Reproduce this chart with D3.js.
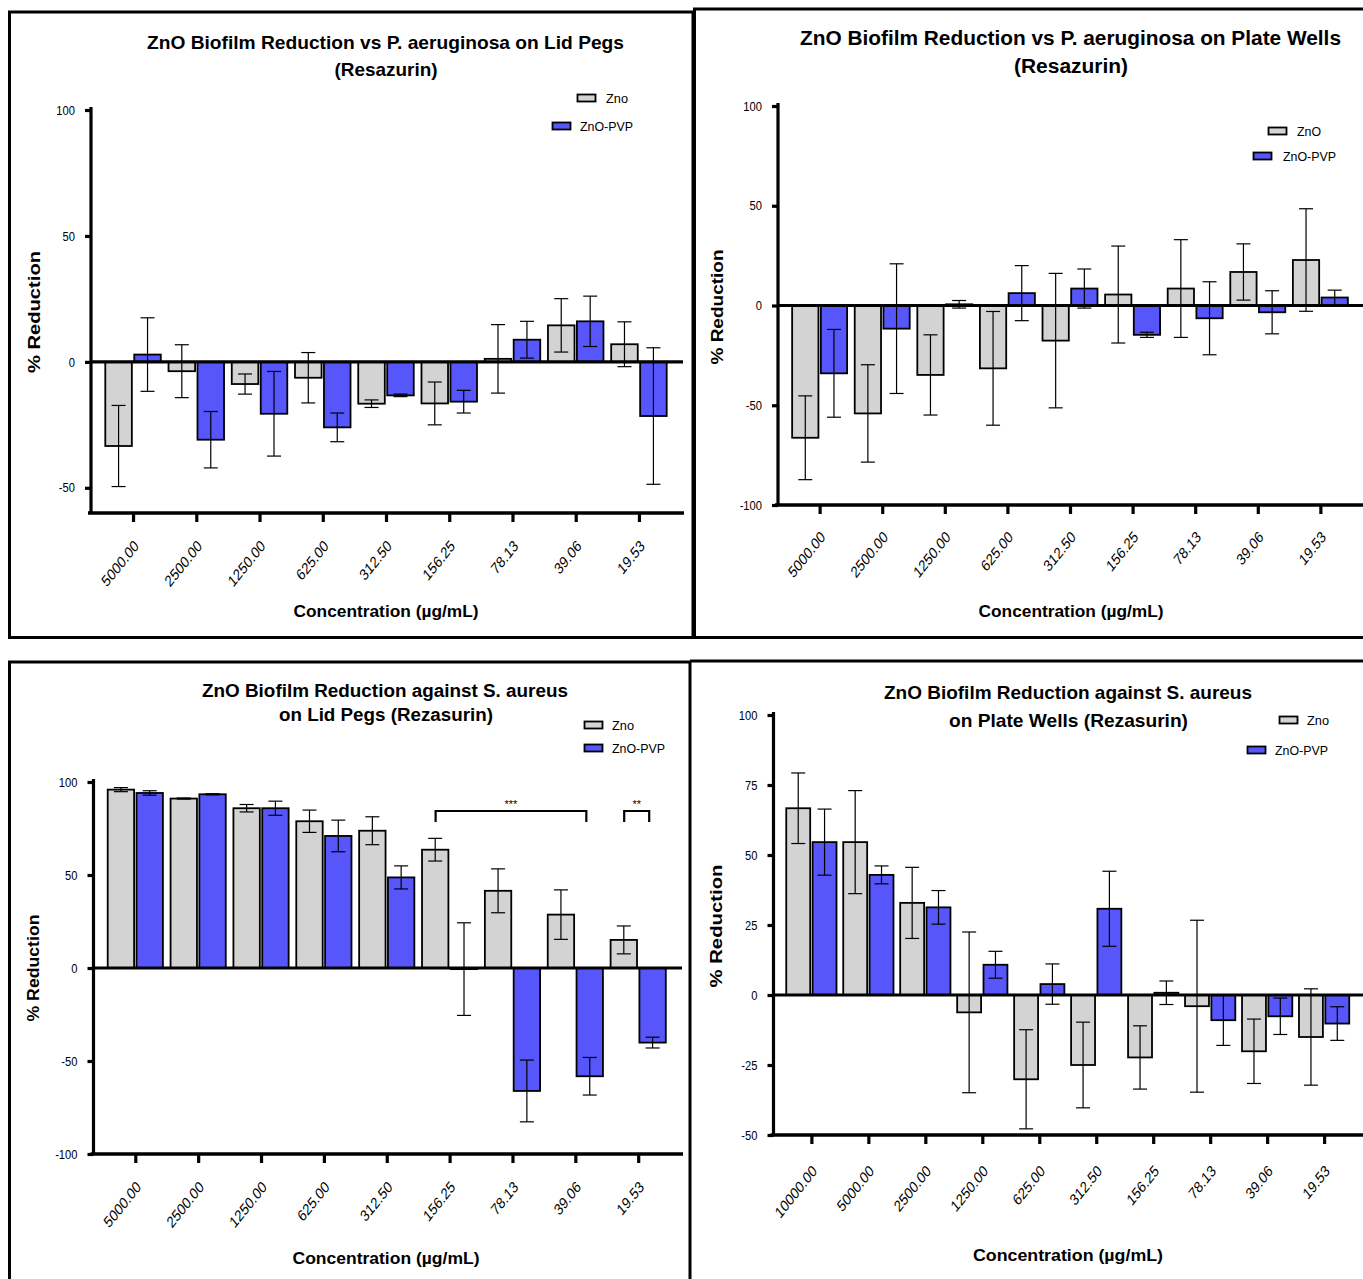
<!DOCTYPE html>
<html>
<head>
<meta charset="utf-8">
<script src="https://cdn.jsdelivr.net/npm/d3@7"></script>
<style>
  body { margin: 0; background: #fff; }
  svg { display: block; }
  text { font-family: "Liberation Sans", Arial, Helvetica, sans-serif; fill: #000; }
</style>
</head>
<body>
<svg id="fig" width="1363" height="1279"></svg>
<script>
// ---- concentrations (µg/mL) ----
const concPA = ["5000.00", "2500.00", "1250.00", "625.00", "312.50", "156.25", "78.13", "39.06", "19.53"];
const concSALid = ["5000.00", "2500.00", "1250.00", "625.00", "312.50", "156.25", "78.13", "39.06", "19.53"];
const concSAWell = ["10000.00", "5000.00", "2500.00", "1250.00", "625.00", "312.50", "156.25", "78.13", "39.06", "19.53"];

// ---- P. aeruginosa, lid pegs: mean % reduction and SD ----
const paLidZno = [-33.4, -3.7, -8.8, -6.3, -16.6, -16.5, 1.2, 14.5, 7.0];
const paLidZnoSd = [16.1, 10.5, 4.0, 10.0, 1.5, 8.5, 13.6, 10.6, 8.9];
const paLidPvp = [2.9, -30.9, -20.6, -26.0, -13.3, -15.8, 8.8, 16.1, -21.5];
const paLidPvpSd = [14.6, 11.2, 16.8, 5.7, 0.5, 4.5, 7.3, 10.0, 27.1];

// ---- P. aeruginosa, plate wells ----
const paWellZno = [-66.3, -54.1, -34.8, -31.5, -17.6, 5.5, 8.5, 16.8, 22.8];
const paWellZnoSd = [21.0, 24.4, 20.1, 28.5, 33.7, 24.3, 24.5, 14.1, 25.7];
const paWellPvp = [-34.0, -11.6, 0.6, 6.2, 8.5, -14.7, -6.4, -3.4, 4.0];
const paWellPvpSd = [22.0, 32.5, 1.9, 13.8, 9.8, 1.3, 18.3, 10.8, 3.7];

// ---- S. aureus, lid pegs ----
const saLidZno = [95.9, 91.1, 85.9, 78.9, 73.8, 63.6, 41.5, 28.7, 15.1];
const saLidZnoSd = [1.1, 0.3, 2.0, 6.0, 7.5, 6.1, 11.8, 13.3, 7.5];
const saLidPvp = [94.1, 93.4, 85.9, 71.0, 48.7, -0.6, -66.1, -58.2, -40.1];
const saLidPvpSd = [1.2, 0.3, 3.8, 8.5, 6.2, 24.9, 16.6, 10.1, 2.9];

// ---- S. aureus, plate wells ----
const saWellZno = [66.7, 54.6, 32.9, -6.2, -30.1, -25.0, -22.3, -4.0, -20.1, -15.0];
const saWellZnoSd = [12.6, 18.4, 12.7, 28.7, 17.7, 15.3, 11.3, 30.7, 11.5, 17.2];
const saWellPvp = [54.6, 42.9, 31.3, 10.8, 3.9, 30.8, 0.8, -9.0, -7.6, -10.2];
const saWellPvpSd = [11.8, 3.2, 6.0, 4.8, 7.2, 13.4, 4.2, 9.0, 6.5, 6.0];

// ---- y-axis ticks ----
const ticksPaLid = [-50, 0, 50, 100];
const ticksPaWell = [-100, -50, 0, 50, 100];
const ticksSaLid = [-100, -50, 0, 50, 100];
const ticksSaWell = [-50, -25, 0, 25, 50, 75, 100];

// ---- significance brackets (S. aureus lid pegs) ----
const saLidBrackets = [
  { from: "156.25", to: "39.06", label: "***" },
  { from: "19.53", to: "19.53", label: "**" }
];

const GRAY = "#d3d3d3";
const BLUE = "#5656fa";

const svg = d3.select("#fig");

// text helper: optional fixed width through textLength
function txt(g, s, x, y, o = {}) {
  const t = g.append("text")
    .attr("x", x).attr("y", y)
    .attr("font-size", o.size || 12)
    .attr("font-weight", o.bold ? "bold" : "normal")
    .attr("text-anchor", o.anchor || "middle")
    .text(s);
  if (o.width) t.attr("textLength", o.width).attr("lengthAdjust", "spacingAndGlyphs");
  if (o.rotate) t.attr("transform", `rotate(${o.rotate},${x},${y})`);
  return t;
}

function drawPanel(cfg) {
  const g = svg.append("g");
  const y = d3.scaleLinear().domain(cfg.yDomain).range([cfg.yBottom, cfg.yTop]);
  const x = d3.scalePoint().domain(cfg.cats).range([cfg.xLeft, cfg.xRight]).padding(0.665);
  const step = x.step();
  const bw = step * 0.42, gap = 2.4;
  const capW = 14;

  const series = [
    { values: cfg.zno, sd: cfg.znoSd, color: GRAY, side: -1 },
    { values: cfg.pvp, sd: cfg.pvpSd, color: BLUE, side: 1 }
  ];
  const barX = (s, i) => s.side < 0 ? x(cfg.cats[i]) - gap / 2 - bw : x(cfg.cats[i]) + gap / 2;

  // bars
  series.forEach(s => {
    g.append("g").selectAll("rect").data(s.values).join("rect")
      .attr("x", (d, i) => barX(s, i))
      .attr("y", d => y(Math.max(0, d)))
      .attr("width", bw)
      .attr("height", d => Math.abs(y(d) - y(0)))
      .attr("fill", s.color)
      .attr("stroke", "#000")
      .attr("stroke-width", 1.8);
  });

  // zero line
  g.append("line")
    .attr("x1", cfg.xLeft).attr("x2", cfg.xRight + 2)
    .attr("y1", y(0)).attr("y2", y(0))
    .attr("stroke", "#000").attr("stroke-width", 3.2);

  // error bars (mean ± SD)
  series.forEach(s => {
    const eg = g.append("g").attr("stroke", "#000").attr("stroke-width", 1.2);
    s.values.forEach((v, i) => {
      const cx = barX(s, i) + bw / 2;
      const hi = y(v + s.sd[i]), lo = y(v - s.sd[i]);
      eg.append("line").attr("x1", cx).attr("x2", cx).attr("y1", hi).attr("y2", lo);
      eg.append("line").attr("x1", cx - capW / 2).attr("x2", cx + capW / 2).attr("y1", hi).attr("y2", hi);
      eg.append("line").attr("x1", cx - capW / 2).attr("x2", cx + capW / 2).attr("y1", lo).attr("y2", lo);
    });
  });

  // y axis
  const ya = g.append("g")
    .attr("transform", `translate(${cfg.xLeft},0)`)
    .call(d3.axisLeft(y).tickValues(cfg.yTicks).tickSize(6).tickSizeOuter(0).tickPadding(10)
      .tickFormat(d => String(d)));
  ya.select(".domain").attr("stroke-width", 3.2)
    .attr("d", `M0,${cfg.yTop - 3}V${cfg.yBottom}`);
  ya.selectAll(".tick line").attr("stroke-width", 3.2);
  ya.selectAll(".tick text")
    .attr("font-size", 13).attr("font-family", "Liberation Sans, Arial, sans-serif")
    .attr("fill", "#000")
    .attr("transform", "scale(0.86,1)")
    .attr("x", -16 / 0.86);

  // x axis
  const xa = g.append("g")
    .attr("transform", `translate(0,${cfg.yBottom})`)
    .call(d3.axisBottom(x).tickSize(9).tickSizeOuter(0));
  xa.select(".domain").attr("stroke-width", 3.6)
    .attr("d", `M${cfg.xLeft - 3},0H${cfg.xRight + 3}`);
  xa.selectAll(".tick line").attr("stroke-width", 3.2);
  xa.selectAll(".tick text")
    .attr("font-size", 16).attr("font-family", "Liberation Sans, Arial, sans-serif")
    .attr("fill", "#000")
    .attr("x", 0).attr("y", 0).attr("dy", null)
    .attr("text-anchor", "end")
    .attr("transform", `translate(${cfg.xLabDx},${cfg.xLabDy}) scale(0.8,1) rotate(-45)`);

  // titles
  cfg.title.forEach(t => txt(g, t.text, t.x, t.y, { size: t.size, bold: true, width: t.w }));
  txt(g, cfg.xTitle.text, cfg.xTitle.x, cfg.xTitle.y, { size: 17, bold: true, width: cfg.xTitle.w });
  txt(g, cfg.yTitle.text, cfg.yTitle.x, cfg.yTitle.y, { size: 17, bold: true, width: cfg.yTitle.w, rotate: -90 });

  // legend
  cfg.legend.forEach((l, i) => {
    g.append("rect").attr("x", l.rx).attr("y", l.ry).attr("width", 18).attr("height", 7)
      .attr("fill", i === 0 ? GRAY : BLUE).attr("stroke", "#000").attr("stroke-width", 1.8);
    txt(g, l.text, l.tx, l.ry + 8, { size: 13, anchor: "start", width: l.tw });
  });

  // significance brackets
  (cfg.brackets || []).forEach(b => {
    const x1 = x(b.from) + cfg.bracketInset[0], x2 = x(b.to) + cfg.bracketInset[1];
    const yb = cfg.bracketY;
    g.append("path")
      .attr("d", `M${x1},${yb + 11}V${yb}H${x2}V${yb + 11}`)
      .attr("fill", "none").attr("stroke", "#000").attr("stroke-width", 2.2);
    txt(g, b.label, (x1 + x2) / 2, yb - 3, { size: 11 });
  });
}

// ---- panel frames ----
const frame = svg.append("g").attr("fill", "none").attr("stroke", "#000").attr("stroke-width", 3);
frame.append("path").attr("d", "M9.5,637.5V12H693V637.5Z");
frame.append("path").attr("d", "M693,9H1363M693,637.5H1363M694.5,9V637.5");
frame.append("path").attr("d", "M9.5,1285V662H690V1285");
frame.append("path").attr("d", "M690,661H1363");

// P. aeruginosa – lid pegs
drawPanel({
  cats: concPA, zno: paLidZno, znoSd: paLidZnoSd, pvp: paLidPvp, pvpSd: paLidPvpSd,
  yDomain: [-60, 100], yBottom: 513, yTop: 110, yTicks: ticksPaLid,
  xLeft: 91, xRight: 681, xLabDx: 6, xLabDy: 34,
  title: [
    { text: "ZnO Biofilm Reduction vs P. aeruginosa on Lid Pegs", x: 385.5, y: 49, size: 19, w: 477 },
    { text: "(Resazurin)", x: 386, y: 76, size: 19, w: 103 }
  ],
  xTitle: { text: "Concentration (µg/mL)", x: 386, y: 617, w: 185 },
  yTitle: { text: "%  Reduction", x: 40, y: 312, w: 122 },
  legend: [
    { text: "Zno", rx: 577.5, ry: 94.5, tx: 606, tw: 22 },
    { text: "ZnO-PVP", rx: 552.5, ry: 122.5, tx: 580, tw: 53 }
  ]
});

// P. aeruginosa – plate wells
drawPanel({
  cats: concPA, zno: paWellZno, znoSd: paWellZnoSd, pvp: paWellPvp, pvpSd: paWellPvpSd,
  yDomain: [-100, 100], yBottom: 505, yTop: 106, yTicks: ticksPaWell,
  xLeft: 778, xRight: 1362, xLabDx: 6, xLabDy: 33,
  title: [
    { text: "ZnO Biofilm Reduction vs P. aeruginosa on Plate Wells", x: 1070.5, y: 45, size: 20, w: 541 },
    { text: "(Resazurin)", x: 1071, y: 73, size: 20, w: 114 }
  ],
  xTitle: { text: "Concentration (µg/mL)", x: 1071, y: 617, w: 185 },
  yTitle: { text: "% Reduction", x: 723, y: 307, w: 115 },
  legend: [
    { text: "ZnO", rx: 1268.5, ry: 127.5, tx: 1297, tw: 24 },
    { text: "ZnO-PVP", rx: 1253.5, ry: 152.5, tx: 1283, tw: 53 }
  ]
});

// S. aureus – lid pegs
drawPanel({
  cats: concSALid, zno: saLidZno, znoSd: saLidZnoSd, pvp: saLidPvp, pvpSd: saLidPvpSd,
  yDomain: [-100, 100], yBottom: 1154, yTop: 782, yTicks: ticksSaLid,
  xLeft: 93.5, xRight: 680, xLabDx: 6, xLabDy: 34,
  title: [
    { text: "ZnO Biofilm Reduction against S. aureus", x: 385, y: 697, size: 18, w: 366 },
    { text: "on Lid Pegs (Rezasurin)", x: 386, y: 721, size: 18, w: 214 }
  ],
  xTitle: { text: "Concentration (µg/mL)", x: 386, y: 1264, w: 187 },
  yTitle: { text: "% Reduction", x: 39, y: 968, w: 107 },
  legend: [
    { text: "Zno", rx: 584.5, ry: 721.5, tx: 612, tw: 22 },
    { text: "ZnO-PVP", rx: 584.5, ry: 744.5, tx: 612, tw: 53 }
  ],
  brackets: saLidBrackets, bracketY: 811, bracketInset: [-14, 11]
});

// S. aureus – plate wells
drawPanel({
  cats: concSAWell, zno: saWellZno, znoSd: saWellZnoSd, pvp: saWellPvp, pvpSd: saWellPvpSd,
  yDomain: [-50, 100], yBottom: 1135, yTop: 715, yTicks: ticksSaWell,
  xLeft: 773.5, xRight: 1362, xLabDx: 6, xLabDy: 37,
  title: [
    { text: "ZnO Biofilm Reduction against S. aureus", x: 1068, y: 699, size: 19, w: 368 },
    { text: "on Plate Wells (Rezasurin)", x: 1068.5, y: 727, size: 19, w: 239 }
  ],
  xTitle: { text: "Concentration (µg/mL)", x: 1068, y: 1261, w: 190 },
  yTitle: { text: "% Reduction", x: 722, y: 926, w: 123 },
  legend: [
    { text: "Zno", rx: 1279.5, ry: 716.5, tx: 1307, tw: 22 },
    { text: "ZnO-PVP", rx: 1247.5, ry: 746.5, tx: 1275, tw: 53 }
  ]
});
</script>
</body>
</html>
